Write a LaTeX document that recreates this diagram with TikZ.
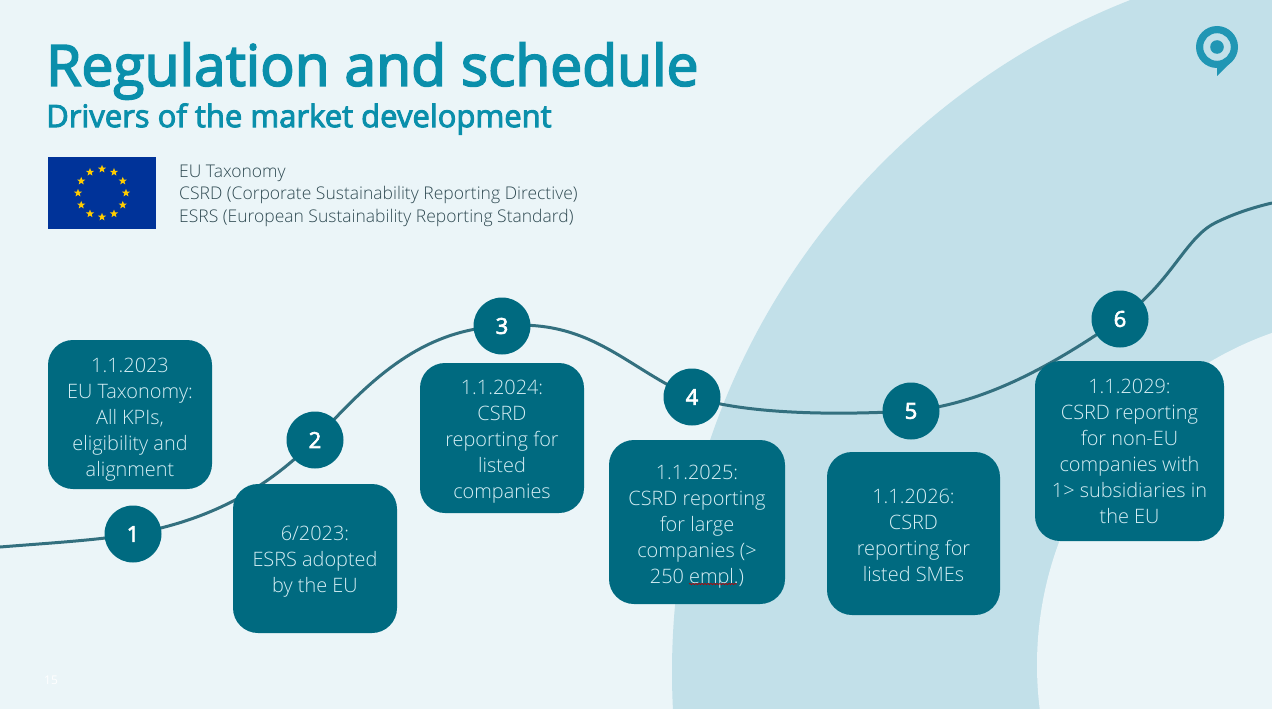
\documentclass[tikz,border=0pt]{standalone}
\usepackage{fontspec}
\setmainfont{Open Sans}
\newfontfamily\lightf{Open Sans Light}
\newfontfamily\semif[RawFeature={embolden=3}]{Open Sans}
\usetikzlibrary{shapes.geometric,decorations.pathmorphing}
\pgfdeclarelayer{back}
\pgfsetlayers{back,main}
\definecolor{bgc}{HTML}{EBF5F8}
\definecolor{ringc}{HTML}{C2E0E9}
\definecolor{teal}{HTML}{006A80}
\definecolor{titlec}{HTML}{0A8FAB}
\definecolor{logoc}{HTML}{2096B4}
\definecolor{linec}{HTML}{33707F}
\definecolor{boxtxt}{HTML}{D5EEF4}
\definecolor{eublue}{HTML}{003399}
\definecolor{euyellow}{HTML}{FFCC00}
\definecolor{bodyc}{HTML}{2F4A52}
\newcommand{\boxlines}[3]{\raisebox{#1}[0pt][0pt]{\parbox{#2}{\centering #3}}}
\tikzset{
  x=1pt,y=-1pt,
  stepbox/.style={fill=teal,rounded corners=25pt,text=boxtxt,align=center,font=\lightf\fontsize{19.9}{26}\selectfont,inner sep=0pt},
  numdot/.style={circle,fill=teal,minimum size=57pt,inner sep=0pt,text=white,font=\semif\fontsize{22}{26}\selectfont},
  legendline/.style={anchor=west,text=bodyc,font=\lightf\fontsize{17.5}{22}\selectfont,inner sep=0pt},
  eustar/.style={star,star points=5,star point ratio=2.4,fill=euyellow,minimum size=8.5pt,inner sep=0pt}
}
\begin{document}
\begin{tikzpicture}
\useasboundingbox (0,0) rectangle (1272,709);
% title
\node[anchor=west,text=titlec,inner sep=0pt,font=\semif\fontsize{57}{60}\selectfont] (title) at (46,71) {Regulation and schedule};
\node[anchor=west,text=titlec,inner sep=0pt,font=\semif\fontsize{31}{34}\selectfont] (sub) at (46,119) {Drivers of the market development};
% flag
\fill[eublue] (48,157) rectangle (156,229);
\foreach \a in {0,30,...,330}
  \node[eustar] at ({102+24*cos(\a)},{193+24*sin(\a)}) {};
% legend
\node[legendline] (l1) at (179,173) {EU Taxonomy};
\node[legendline] (l2) at (179,195) {CSRD (Corporate Sustainability Reporting Directive)};
\node[legendline] (l3) at (179,218) {ESRS (European Sustainability Reporting Standard)};
% logo
\fill[logoc] (1217,66) -- (1217,76) -- (1233,60) -- cycle;
\fill[logoc,even odd rule] (1217,47) circle[radius=21pt] (1217,47) circle[radius=13.8pt];
\fill[logoc] (1217,47) circle[radius=6.8pt];
% dots
\node[numdot] (n1) at (133,534) {1};
\node[numdot] (n2) at (315,440) {2};
\node[numdot] (n3) at (502,326) {3};
\node[numdot] (n4) at (692,397) {4};
\node[numdot] (n5) at (911,411) {5};
\node[numdot] (n6) at (1120,319) {6};
\coordinate (start) at (0,547);
\coordinate (bend) at (1215,223);
\coordinate (finish) at (1272,203);
\begin{pgfonlayer}{back}
\fill[bgc] (0,0) rectangle (1272,709);
\begin{scope}
\clip (0,0) rectangle (1272,709);
\fill[ringc] (1393.5,672) circle[radius=721.5pt];
\fill[bgc] (1389,665) circle[radius=352pt];
\end{scope}
\draw[linec,line width=3pt] (start) .. controls (50,543) and (100,540) .. (n1.center)
  .. controls (210,520) and (265,490) .. (n2.center)
  .. controls (370,380) and (420,330) .. (n3.center)
  .. controls (590,318) and (625,367) .. (n4.center)
  .. controls (750,415) and (840,415) .. (n5.center)
  .. controls (990,403) and (1060,360) .. (n6.center)
  .. controls (1170,285) and (1185,238) .. (bend)
  .. controls (1235,213) and (1255,207) .. (finish);
\end{pgfonlayer}
% boxes
\node[stepbox,minimum width=164pt,minimum height=149pt] (b1) at (130,414.5) {\boxlines{-10.5pt}{160pt}{1.1.2023\\EU Taxonomy:\\All KPIs,\\eligibility and\\alignment}};
\node[stepbox,minimum width=164pt,minimum height=149pt] (b2) at (315,558.5) {\boxlines{-8.5pt}{160pt}{6/2023:\\ESRS adopted\\by the EU}};
\node[stepbox,minimum width=164pt,minimum height=150pt] (b3) at (502,438) {\boxlines{-9pt}{160pt}{1.1.2024:\\CSRD\\reporting for\\listed\\companies}};
\node[stepbox,minimum width=176pt,minimum height=164pt] (b4) at (697,522) {\boxlines{-10pt}{172pt}{1.1.2025:\\CSRD reporting\\for large\\companies (>\\250 empl.)}};
\node[stepbox,minimum width=173pt,minimum height=163pt] (b5) at (913.5,533.5) {\boxlines{-7.5pt}{170pt}{1.1.2026:\\CSRD\\reporting for\\listed SMEs}};
\node[stepbox,minimum width=189pt,minimum height=180pt] (b6) at (1129.5,451) {\boxlines{-6pt}{185pt}{1.1.2029:\\CSRD reporting\\for non-EU\\companies with\\1> subsidiaries in\\the EU}};
\draw[red!75!black,line width=.7pt,decorate,decoration={snake,amplitude=.6pt,segment length=3pt}] (689,584) -- (737,584);
\node[text=white,font=\fontsize{12}{14}\selectfont,inner sep=0pt] (pg) at (51,680) {15};
\end{tikzpicture}
\end{document}
